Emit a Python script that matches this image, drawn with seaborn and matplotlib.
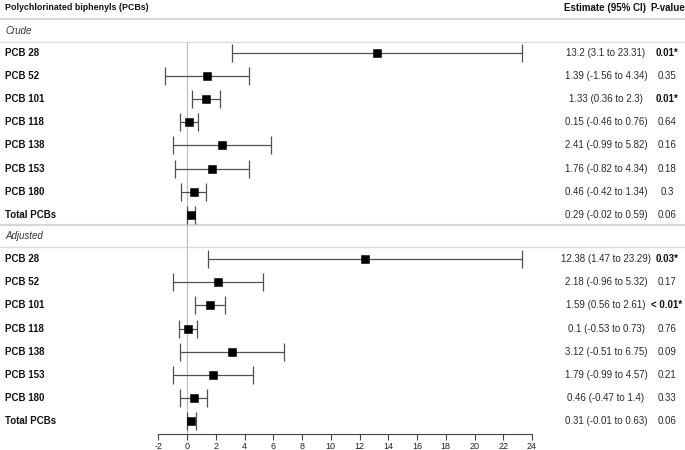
import matplotlib
matplotlib.use("Agg")
import matplotlib.pyplot as plt
import seaborn as sns
import numpy as np
import pandas as pd

# ---------------- data ----------------
pcbs = ["PCB 28", "PCB 52", "PCB 101", "PCB 118", "PCB 138", "PCB 153", "PCB 180", "Total PCBs"]

crude_est = [13.2, 1.39, 1.33, 0.15, 2.41, 1.76, 0.46, 0.29]
crude_lo = [3.1, -1.56, 0.36, -0.46, -0.99, -0.82, -0.42, -0.02]
crude_hi = [23.31, 4.34, 2.3, 0.76, 5.82, 4.34, 1.34, 0.59]
crude_p = ["0.01*", "0.35", "0.01*", "0.64", "0.16", "0.18", "0.3", "0.06"]

adj_est = [12.38, 2.18, 1.59, 0.1, 3.12, 1.79, 0.46, 0.31]
adj_lo = [1.47, -0.96, 0.56, -0.53, -0.51, -0.99, -0.47, -0.01]
adj_hi = [23.29, 5.32, 2.61, 0.73, 6.75, 4.57, 1.4, 0.63]
adj_p = ["0.03*", "0.17", "< 0.01*", "0.76", "0.09", "0.21", "0.33", "0.06"]

sections = ["Crude", "Adjusted"]
x_ticks = list(range(-2, 25, 2))

# ---------------- layout ----------------
sns.set_theme(style="white")
plt.rcParams["font.family"] = ["Liberation Sans", "DejaVu Sans"]

W, H = 685, 450
fig = plt.figure(figsize=(W / 100, H / 100), dpi=100)
ax = fig.add_axes([0, 0, 1, 1])

px_zero, px_unit = 187.0, 14.375
ax.set_xlim(-px_zero / px_unit, (W - px_zero) / px_unit)
ax.set_ylim(H, 0)

row_gap = 23.2
header_y = 8
label_y = {"Crude": 31, "Adjusted": 236}
first_row = {"Crude": 52.5, "Adjusted": 259}
axis_y = 434

fs = 7.0
ytr = ax.get_yaxis_transform()  # x in axes fraction, y in data

frames = []
for sec, est, lo, hi, pv in [("Crude", crude_est, crude_lo, crude_hi, crude_p),
                             ("Adjusted", adj_est, adj_lo, adj_hi, adj_p)]:
    d = pd.DataFrame({"pcb": pcbs, "est": est, "lo": lo, "hi": hi, "p": pv})
    d["section"] = sec
    d["y"] = first_row[sec] + row_gap * np.arange(len(d))
    frames.append(d)
df = pd.concat(frames, ignore_index=True)

# separators
ax.axhline(19, color="#d6d6d6", lw=1.6, zorder=1)
ax.axhline(42, color="#dcdcdc", lw=1.0, zorder=1)
ax.axhline(225, color="#d6d6d6", lw=1.6, zorder=1)
ax.axhline(247, color="#dcdcdc", lw=1.0, zorder=1)

# zero reference line
ax.vlines(0, 42, axis_y, color="#bdbdbd", lw=0.8, zorder=1)

# CIs
ax.errorbar(df["est"], df["y"],
            xerr=[df["est"] - df["lo"], df["hi"] - df["est"]],
            fmt="none", ecolor="#505050", elinewidth=0.9,
            capsize=6.5, capthick=0.9, zorder=2)

# point estimates
sns.scatterplot(data=df, x="est", y="y", marker="s", s=38, color="black",
                edgecolor="black", linewidth=0.4, zorder=3, ax=ax, legend=False)

# header
ax.text(5 / W, header_y, "Polychlorinated biphenyls (PCBs)", transform=ytr,
        fontsize=6.4, fontweight="bold", va="center", ha="left", color="#111111")
ax.text(605 / W, header_y, "Estimate (95% CI)", transform=ytr,
        fontsize=fs, fontweight="bold", va="center", ha="center", color="#111111")
ax.text(668 / W, header_y, "P-value", transform=ytr,
        fontsize=fs, fontweight="bold", va="center", ha="center", color="#111111")

for sec in sections:
    ax.text(5 / W, label_y[sec], sec, transform=ytr, fontsize=fs,
            fontstyle="italic", va="center", ha="left", color="#333333")

for _, r in df.iterrows():
    ax.text(5 / W, r["y"], r["pcb"], transform=ytr, fontsize=fs,
            fontweight="bold", va="center", ha="left", color="#111111")
    ax.text(606 / W, r["y"], f"{r['est']} ({r['lo']} to {r['hi']})",
            transform=ytr, fontsize=fs, va="center", ha="center", color="#2a2a2a")
    bold = "*" in r["p"]
    ax.text(667 / W, r["y"], r["p"], transform=ytr, fontsize=fs,
            fontweight="bold" if bold else "normal", va="center", ha="center",
            color="#111111" if bold else "#2a2a2a")

# x axis
for s in ["top", "left", "right"]:
    ax.spines[s].set_visible(False)
ax.spines["bottom"].set_position(("data", axis_y))
ax.spines["bottom"].set_bounds(-2, 24)
ax.spines["bottom"].set_color("#444444")
ax.spines["bottom"].set_linewidth(0.8)
ax.set_xticks(x_ticks)
ax.set_xticklabels([str(t) for t in x_ticks])
ax.tick_params(axis="x", direction="out", length=4, width=0.8, color="#444444",
               labelsize=6.5, pad=2, bottom=True, labelcolor="#222222")
ax.set_yticks([])
ax.set_xlabel("")
ax.set_ylabel("")

fig.savefig("out.png", dpi=100)
